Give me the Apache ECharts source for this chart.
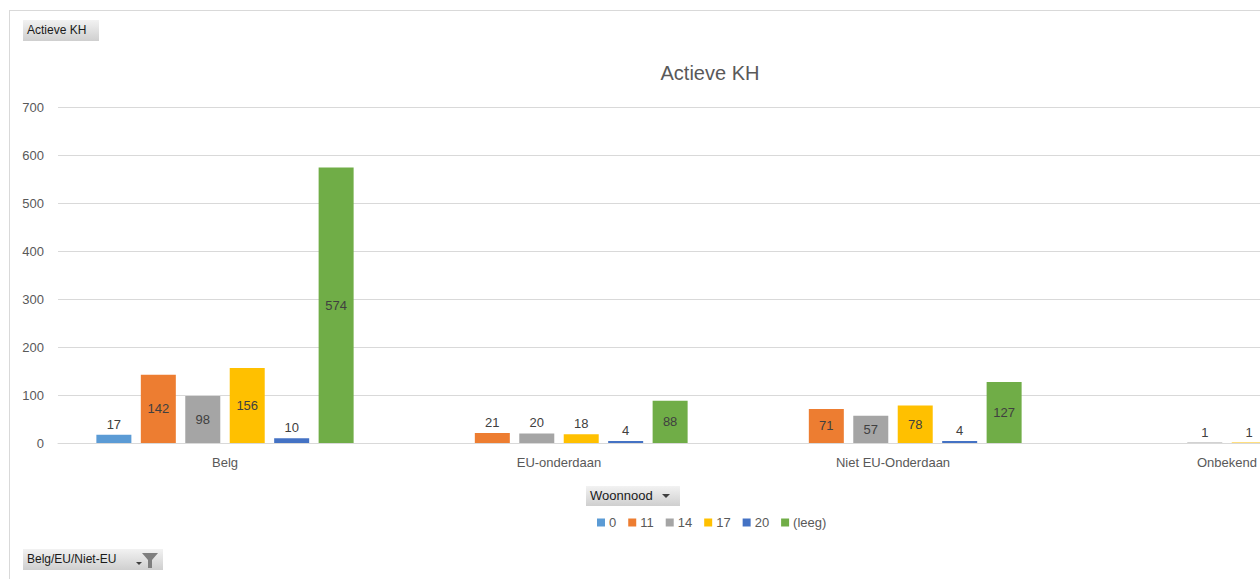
<!DOCTYPE html>
<html><head><meta charset="utf-8">
<script src="https://cdn.jsdelivr.net/npm/echarts@6/dist/echarts.min.js"></script>
<style>html,body{margin:0;padding:0;overflow:hidden;background:#fff}#c{width:1420px;height:579px}</style>
</head><body><div id="c"></div>
<script>
var categories = ['Belg', 'EU-onderdaan', 'Niet EU-Onderdaan', 'Onbekend'];
var seriesNames = ['0', '11', '14', '17', '20', '(leeg)'];
var s0 = [17, null, null, null];
var s11 = [142, 21, 71, null];
var s14 = [98, 20, 57, 1];
var s17 = [156, 18, 78, 1];
var s20 = [10, 4, 4, null];
var sLeeg = [574, 88, 127, null];
var yTicks = [0, 100, 200, 300, 400, 500, 600, 700];
var colors = ['#5B9BD5', '#ED7D31', '#A5A5A5', '#FFC000', '#4472C4', '#70AD47'];

var FONT = 'Liberation Sans, Arial, sans-serif';
var allData = [s0, s11, s14, s17, s20, sLeeg];
function mk(arr) {
  return arr.map(function (v) {
    if (v === null) return '-';
    return { value: v, label: { position: v >= 40 ? 'inside' : 'top' } };
  });
}
var series = allData.map(function (arr, i) {
  return {
    name: seriesNames[i], type: 'bar', data: mk(arr), barWidth: 35, barGap: '27%',
    itemStyle: { color: colors[i] },
    label: { show: true, color: '#404040', fontSize: 13, fontFamily: FONT, distance: 4 }
  };
});
function btnGrad() {
  return new echarts.graphic.LinearGradient(0, 0, 0, 1, [
    { offset: 0, color: '#f2f2f2' }, { offset: 1, color: '#cfcfcf' }]);
}
var chart = echarts.init(document.getElementById('c'), null, { renderer: 'svg' });
chart.setOption({
  animation: false,
  backgroundColor: '#fff',
  title: { text: 'Actieve KH', left: 'center', top: 58,
    textStyle: { color: '#595959', fontSize: 20, fontWeight: 'normal', fontFamily: FONT } },
  legend: { data: seriesNames, left: 592, top: 511, itemWidth: 8, itemHeight: 8, itemGap: 12,
    icon: 'rect', textStyle: { color: '#595959', fontSize: 13, fontFamily: FONT, padding: [0, 0, 0, -1] } },
  grid: { left: 58, right: 26, top: 107, bottom: 136, containLabel: false },
  xAxis: { type: 'category', data: categories,
    axisLine: { lineStyle: { color: '#d9d9d9' } }, axisTick: { show: false },
    axisLabel: { color: '#595959', fontSize: 13, fontFamily: FONT, margin: 13 } },
  yAxis: { type: 'value', min: yTicks[0], max: yTicks[yTicks.length - 1], interval: 100,
    axisLabel: { color: '#595959', fontSize: 13, fontFamily: FONT, margin: 14 },
    splitLine: { lineStyle: { color: '#d9d9d9' } } },
  series: series,
  graphic: [
    { type: 'line', shape: { x1: 10, y1: 10.5, x2: 1420, y2: 10.5 }, style: { stroke: '#d9d9d9', lineWidth: 1 }, silent: true },
    { type: 'line', shape: { x1: 9.5, y1: 10, x2: 9.5, y2: 579 }, style: { stroke: '#d9d9d9', lineWidth: 1 }, silent: true },
    { type: 'rect', shape: { x: 23, y: 20, width: 76, height: 21 }, style: { fill: btnGrad() } },
    { type: 'text', x: 27, y: 24, style: { text: 'Actieve KH', fill: '#1a1a1a', font: '12px ' + FONT } },
    { type: 'rect', shape: { x: 586, y: 486, width: 94, height: 20 }, style: { fill: btnGrad() } },
    { type: 'text', x: 590, y: 489, style: { text: 'Woonnood', fill: '#1a1a1a', font: '13px ' + FONT } },
    { type: 'polygon', shape: { points: [[662, 494], [670, 494], [666, 498]] }, style: { fill: '#404040' } },
    { type: 'rect', shape: { x: 23, y: 549, width: 140, height: 21 }, style: { fill: btnGrad() } },
    { type: 'text', x: 27, y: 553, style: { text: 'Belg/EU/Niet-EU', fill: '#1a1a1a', font: '12px ' + FONT } },
    { type: 'polygon', shape: { points: [[136, 562], [142, 562], [139, 565]] }, style: { fill: '#404040' } },
    { type: 'polygon', shape: { points: [[142, 553], [158, 553], [152, 560], [152, 568], [148, 568], [148, 560]] }, style: { fill: '#7f7f7f' } }
  ]
});
</script></body></html>
